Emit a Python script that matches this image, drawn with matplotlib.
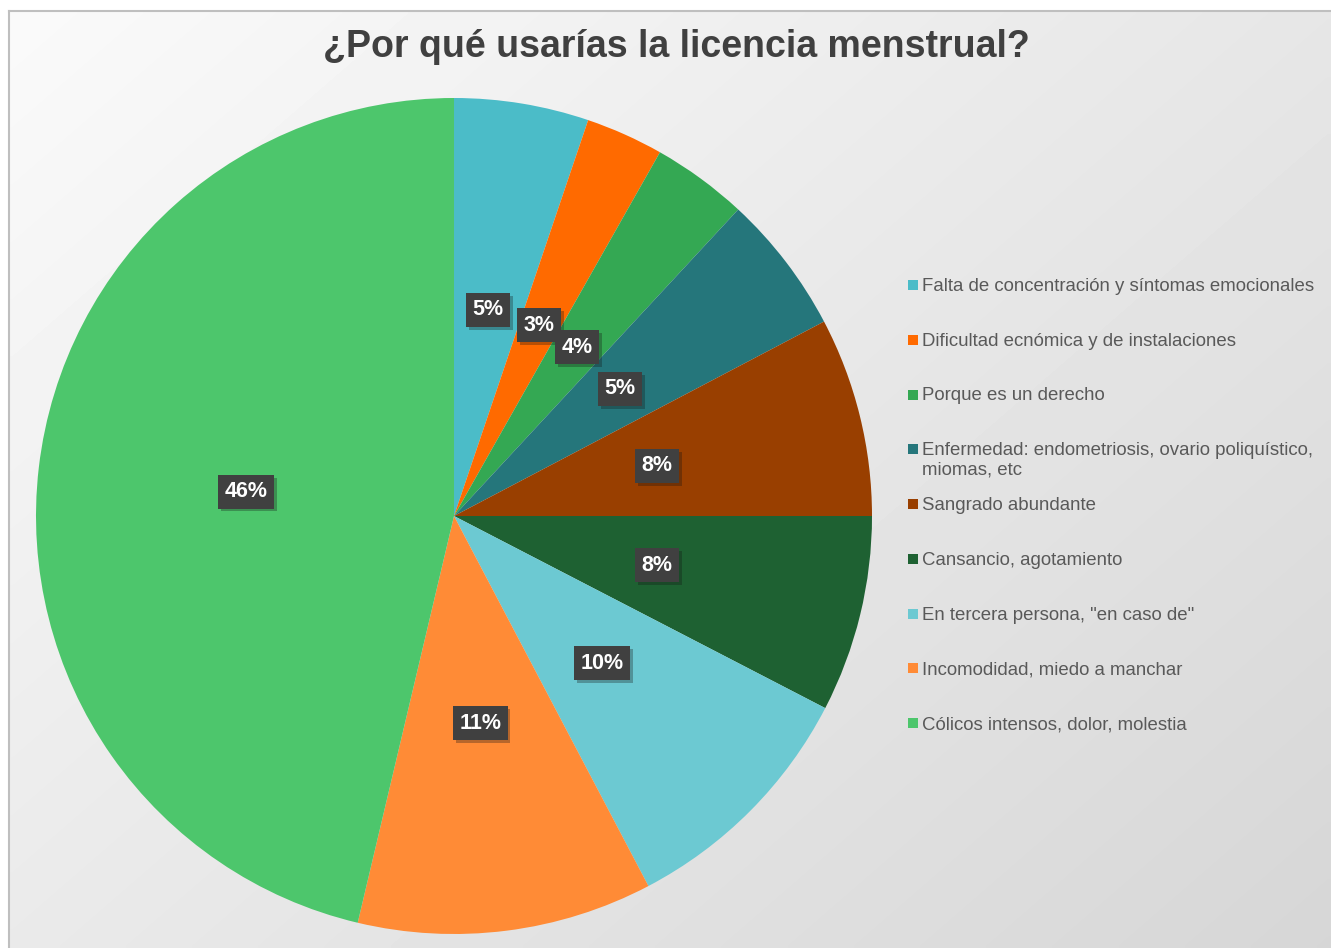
import numpy as np
import matplotlib
matplotlib.use("Agg")
import matplotlib.pyplot as plt
import matplotlib.patheffects as pe

# Data (percent of answers, clockwise from 12 o'clock)
categories = [
    "Falta de concentración y síntomas emocionales",
    "Dificultad ecnómica y de instalaciones",
    "Porque es un derecho",
    "Enfermedad: endometriosis, ovario poliquístico,\nmiomas, etc",
    "Sangrado abundante",
    "Cansancio, agotamiento",
    "En tercera persona, \"en caso de\"",
    "Incomodidad, miedo a manchar",
    "Cólicos intensos, dolor, molestia",
]
values = [5.2, 3.0, 3.7, 5.4, 7.7, 7.6, 9.7, 11.4, 46.3]
colors = ["#4BBCC8", "#FF6A00", "#34A853", "#25767B", "#993F00",
          "#1E6132", "#6CC9D2", "#FF8B36", "#4DC66C"]

W, H = 1331, 948
fig = plt.figure(figsize=(W / 100, H / 100), dpi=100)
fig.patch.set_facecolor("white")

# Chart area background with a soft diagonal gradient
bg = fig.add_axes([9 / W, 0, 1 - 9 / W, (H - 11) / H])
gx, gy = np.meshgrid(np.linspace(0, 1, 200), np.linspace(0, 1, 200))
grad = 250 - 36 * (0.55 * gx + 0.45 * gy)
bg.imshow(grad, cmap="gray", vmin=0, vmax=255, aspect="auto",
          extent=[0, 1, 1, 0], interpolation="bilinear")
bg.set_xticks([])
bg.set_yticks([])
for name, s in bg.spines.items():
    s.set_color("#BFBFBF")
    s.set_linewidth(1.5)
    if name in ("right", "bottom"):
        s.set_visible(False)
bg.set_zorder(0)

# Pie
cx, cy, r = 454, 516, 418
ax = fig.add_axes([(cx - r) / W, (H - cy - r) / H, 2 * r / W, 2 * r / H])
ax.set_zorder(1)
wedges, texts, autotexts = ax.pie(
    values, colors=colors, startangle=90, counterclock=False,
    radius=1, autopct=lambda p: f"{p:.0f}%", pctdistance=0.5,
    wedgeprops=dict(linewidth=0),
    textprops=dict(color="white", fontsize=15.5, fontweight="bold",
                   family="Liberation Sans"),
)
for t in autotexts:
    t.set_bbox(dict(boxstyle="square,pad=0.3", fc="#404040", ec="none"))
    t.get_bbox_patch().set_path_effects(
        [pe.SimplePatchShadow(offset=(2, -2), alpha=0.3), pe.Normal()])
ax.set_xlim(-1, 1)
ax.set_ylim(-1, 1)
ax.set_aspect("equal")
ax.axis("off")

# Title
fig.text(676 / W, 1 - 47 / H, "¿Por qué usarías la licencia menstrual?",
         ha="center", va="center", fontsize=27, fontweight="bold",
         color="#404040", family="Liberation Sans")

# Legend
leg_x = 908
leg_y0 = 285
step = 54.75
for i, (lab, col) in enumerate(zip(categories, colors)):
    y = leg_y0 + i * step
    fig.patches.append(plt.Rectangle((leg_x / W, 1 - (y + 5) / H), 10 / W, 10 / H,
                                     transform=fig.transFigure, fc=col, ec="none",
                                     zorder=3))
    fig.text((leg_x + 14) / W, 1 - (y - 7) / H, lab, ha="left", va="top",
             fontsize=13.4, color="#595959", family="Liberation Sans",
             linespacing=1.2)

fig.savefig("out.png", dpi=100)
